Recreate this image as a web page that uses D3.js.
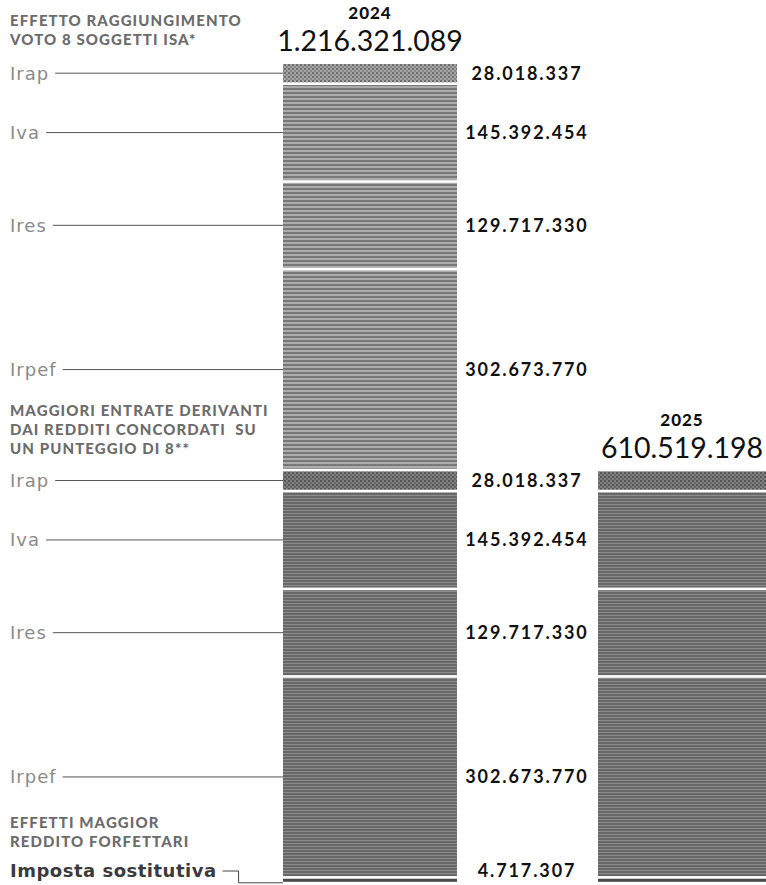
<!DOCTYPE html>
<html><head><meta charset="utf-8">
<script src="https://cdn.jsdelivr.net/npm/d3@7"></script>
<style>
html,body{margin:0;padding:0;background:#fff;}
svg{display:block;}
</style></head>
<body>
<svg id="chart" width="766" height="885"></svg>
<script>
// ---- data ----
const categories = ["Irap", "Iva", "Ires", "Irpef"];
const isaValues = [28018337, 145392454, 129717330, 302673770];        // Effetto raggiungimento voto 8 soggetti ISA
const concordatiValues = [28018337, 145392454, 129717330, 302673770]; // Maggiori entrate redditi concordati
const forfettariLabels = ["Imposta sostitutiva"];
const forfettariValues = [4717307];
const years = ["2024", "2025"];
const yearTotals = [1216321089, 610519198];
const groupTitles = [
  ["EFFETTO RAGGIUNGIMENTO", "VOTO 8 SOGGETTI ISA*"],
  ["MAGGIORI ENTRATE DERIVANTI", "DAI REDDITI CONCORDATI  SU", "UN PUNTEGGIO DI 8**"],
  ["EFFETTI MAGGIOR", "REDDITO FORFETTARI"]
];

const fmt = v => d3.format(",")(v).replace(/,/g, ".");

const svg = d3.select("#chart");
const defs = svg.append("defs");

// patterns emulating the halftone textures
function stripePattern(id, bg, line, period, lw) {
  const p = defs.append("pattern").attr("id", id).attr("patternUnits", "userSpaceOnUse")
    .attr("width", 4).attr("height", period);
  p.append("rect").attr("width", 4).attr("height", period).attr("fill", bg);
  p.append("rect").attr("width", 4).attr("height", lw).attr("fill", line);
}
stripePattern("pUpper", "#ababab", "#787878", 4, 2);
stripePattern("pLower", "#686868", "#8c8c8c", 3, 1);
function checkPattern(id, bg, a, b) {
  const p = defs.append("pattern").attr("id", id).attr("patternUnits", "userSpaceOnUse")
    .attr("width", 4).attr("height", 4);
  p.append("rect").attr("width", 4).attr("height", 4).attr("fill", bg);
  p.append("rect").attr("x", 0).attr("y", 0).attr("width", 2).attr("height", 2).attr("fill", a);
  p.append("rect").attr("x", 2).attr("y", 2).attr("width", 2).attr("height", 2).attr("fill", b);
}
checkPattern("pIrap", "#a4a4a4", "#6e6e6e", "#868686");
checkPattern("pIrapLow", "#808080", "#555555", "#666666");

// ---- layout ----
const barTop = 64, gap = 2.6;
const h = d3.scaleLinear().domain([0, yearTotals[0]]).range([0, 797]);
const barX = { "2024": 283, "2025": 598 };
const barW = 174;
const valueX = 527;
const labelX = 10;

// build segment list
const segs = [];
categories.forEach((c, i) => segs.push({ group: 0, label: c, value: isaValues[i] }));
categories.forEach((c, i) => segs.push({ group: 1, label: c, value: concordatiValues[i] }));
forfettariLabels.forEach((c, i) => segs.push({ group: 2, label: c, value: forfettariValues[i] }));
let cum = 0;
segs.forEach((s, i) => {
  s.y0 = barTop + h(cum) + i * gap;
  cum += s.value;
  s.y1 = barTop + h(cum) + i * gap;
  s.cy = (s.y0 + s.y1) / 2;
});

function fillFor(s) {
  if (s.group === 0) return s.label === "Irap" ? "url(#pIrap)" : "url(#pUpper)";
  if (s.group === 1) return s.label === "Irap" ? "url(#pIrapLow)" : "url(#pLower)";
  return "#4a4a4a";
}

// 2024 bar
svg.append("g").selectAll("rect").data(segs).join("rect")
  .attr("x", barX["2024"]).attr("width", barW)
  .attr("y", d => d.y0).attr("height", d => d.y1 - d.y0)
  .attr("fill", fillFor);

// 2025 bar: concordati + forfettari
const segs25 = segs.filter(s => s.group > 0);
svg.append("g").selectAll("rect").data(segs25).join("rect")
  .attr("x", barX["2025"]).attr("width", barW)
  .attr("y", d => d.y0).attr("height", d => d.y1 - d.y0)
  .attr("fill", fillFor);

// year headers
const yearTop = [segs[0].y0, segs25[0].y0];
years.forEach((yr, i) => {
  const cx = barX[yr] + (i === 0 ? barW / 2 : 84);
  svg.append("text").attr("x", cx).attr("y", yearTop[i] - 45).attr("text-anchor", "middle")
    .style("font-family", "Lato").style("font-weight", 900).style("font-size", "17px")
    .style("letter-spacing", "1px").attr("fill", "#111")
    .text(yr);
  svg.append("text").attr("x", cx).attr("y", yearTop[i] - 13).attr("text-anchor", "middle")
    .style("font-family", "Lato").style("font-weight", 400).style("font-size", "28.5px").attr("fill", "#111")
    .text(fmt(yearTotals[i]));
});

// group titles
const titleBase = [26, 416, 828];
groupTitles.forEach((lines, g) => {
  lines.forEach((t, j) => {
    svg.append("text").attr("x", labelX).attr("y", titleBase[g] + j * 19.2)
      .style("font-family", "Lato").style("font-weight", 900).style("font-size", "15px")
      .style("letter-spacing", "1.1px").style("white-space", "pre").attr("fill", "#6c6c6c")
      .text(t);
  });
});

// labels + leader lines + values
segs.forEach(s => {
  const isSost = s.group === 2;
  const ly = isSost ? 871 : s.cy;
  const t = svg.append("text").attr("x", labelX).attr("y", ly).attr("dy", "0.36em")
    .style("font-family", "DejaVu Sans").style("font-weight", isSost ? 700 : 400).style("font-size", "18px")
    .style("letter-spacing", isSost ? "0.5px" : "1px")
    .attr("fill", isSost ? "#3a3a3a" : "#8a8a8a").text(s.label);
  const tw = t.node().getComputedTextLength();
  const lx = labelX + tw + 6;
  if (isSost) {
    svg.append("path").attr("d", `M${lx},${ly}H${lx + 16}V${s.y1 + 1}H${barX["2024"]}`)
      .attr("fill", "none").attr("stroke", "#444").attr("stroke-width", 1);
  } else {
    svg.append("line").attr("x1", lx).attr("x2", barX["2024"]).attr("y1", ly).attr("y2", ly)
      .attr("stroke", "#555").attr("stroke-width", 1);
  }
  svg.append("text").attr("x", valueX).attr("y", ly).attr("dy", "0.36em").attr("text-anchor", "middle")
    .style("font-family", "Lato").style("font-weight", 700).style("font-size", "18px")
    .style("letter-spacing", "1.9px").attr("fill", "#111").text(fmt(s.value));
});
</script>
</body></html>
